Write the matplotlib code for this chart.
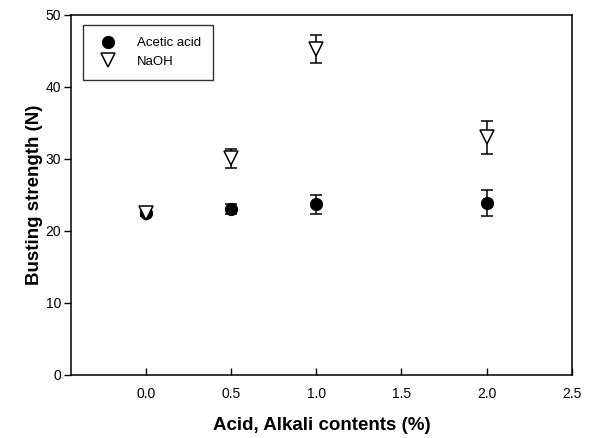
import numpy as np
import matplotlib
matplotlib.use("Agg")
import matplotlib.pyplot as plt

plt.rcParams['font.family'] = ['Liberation Sans', 'DejaVu Sans']

x_acid = [0.0, 0.5, 1.0, 2.0]
y_acid = [22.5, 23.0, 23.7, 23.9]
e_acid = [0.4, 0.7, 1.3, 1.8]

x_naoh = [0.0, 0.5, 1.0, 2.0]
y_naoh = [22.5, 30.1, 45.3, 33.0]
e_naoh = [0.4, 1.3, 1.9, 2.3]

fig = plt.figure(figsize=(5.9, 4.38), dpi=100)
ax = fig.add_axes([70.7/590, 1-375/438, (572-70.7)/590, (375-15)/438])

# error bars first, markers on top (legend shows markers only)
ax.errorbar(x_acid, y_acid, yerr=e_acid, fmt='none', ecolor='black',
            elinewidth=1.1, capsize=4.3, capthick=1.1)
ax.errorbar(x_naoh, y_naoh, yerr=e_naoh, fmt='none', ecolor='black',
            elinewidth=1.1, capsize=4.3, capthick=1.1)
ax.plot(x_acid, y_acid, 'o', color='black', ms=8.5, ls='none', label='Acetic acid', zorder=3)
ax.plot(x_naoh, y_naoh, 'v', mfc='white', mec='black', mew=1.1, ms=9.5, ls='none',
        label='NaOH', zorder=3)

ax.set_xlim(-0.44, 2.5)
ax.set_ylim(0, 50)
ax.set_xticks([0.0, 0.5, 1.0, 1.5, 2.0, 2.5])
ax.set_xticklabels(['0.0', '0.5', '1.0', '1.5', '2.0', '2.5'])
ax.set_yticks([0, 10, 20, 30, 40, 50])
ax.tick_params(axis='x', direction='in', length=5, width=1.0, labelsize=10, pad=9)
ax.tick_params(axis='y', direction='out', length=5, width=1.0, labelsize=10, pad=2)
for s in ax.spines.values():
    s.set_linewidth(1.1)

ax.set_xlabel('Acid, Alkali contents (%)', fontsize=13.5, fontweight='bold', labelpad=11)
ax.set_ylabel('Busting strength (N)', fontsize=13.5, fontweight='bold', labelpad=2)

leg = ax.legend(loc='upper left', bbox_to_anchor=(0.0245, 0.972), frameon=True, fancybox=False,
                edgecolor='black', fontsize=9.5, borderpad=0.9, handletextpad=1.2,
                borderaxespad=0, labelspacing=0.5, handlelength=2.0)
leg.get_frame().set_linewidth(1.0)

fig.savefig('out.png', dpi=100)
